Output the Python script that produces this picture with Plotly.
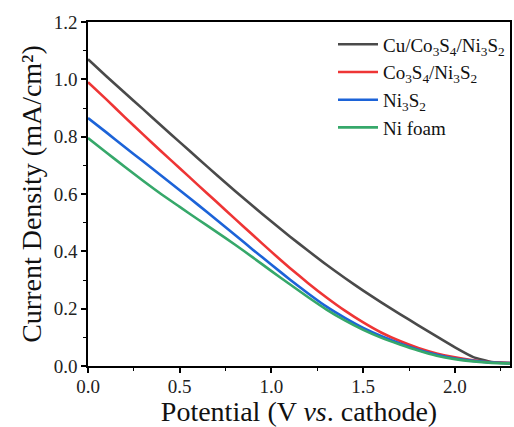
import plotly.graph_objects as go

potential = [0.0, 0.1, 0.2, 0.3, 0.4, 0.5, 0.6, 0.7, 0.8, 0.9, 1.0, 1.1, 1.2,
             1.3, 1.4, 1.5, 1.6, 1.7, 1.8, 1.9, 2.0, 2.1, 2.2, 2.3]

cu_co3s4_ni3s2 = [1.07, 1.011, 0.953, 0.896, 0.838, 0.781, 0.724, 0.667, 0.611, 0.557,
                  0.504, 0.452, 0.402, 0.353, 0.307, 0.263, 0.221, 0.181, 0.142, 0.103,
                  0.065, 0.031, 0.014, 0.01]
co3s4_ni3s2 = [0.99, 0.93, 0.868, 0.808, 0.748, 0.69, 0.631, 0.573, 0.514, 0.456,
               0.398, 0.342, 0.289, 0.239, 0.193, 0.152, 0.116, 0.087, 0.063, 0.044,
               0.03, 0.02, 0.013, 0.01]
ni3s2 = [0.865, 0.815, 0.764, 0.714, 0.664, 0.613, 0.562, 0.51, 0.458, 0.405,
         0.353, 0.302, 0.253, 0.207, 0.168, 0.133, 0.104, 0.079, 0.057, 0.039,
         0.026, 0.018, 0.012, 0.01]
ni_foam = [0.795, 0.745, 0.695, 0.646, 0.599, 0.555, 0.511, 0.468, 0.424, 0.378,
           0.331, 0.285, 0.240, 0.197, 0.159, 0.126, 0.098, 0.075, 0.054, 0.036,
           0.024, 0.016, 0.011, 0.009]

names = ["Cu/Co<sub>3</sub>S<sub>4</sub>/Ni<sub>3</sub>S<sub>2</sub>",
         "Co<sub>3</sub>S<sub>4</sub>/Ni<sub>3</sub>S<sub>2</sub>",
         "Ni<sub>3</sub>S<sub>2</sub>",
         "Ni foam"]
series = [cu_co3s4_ni3s2, co3s4_ni3s2, ni3s2, ni_foam]
colors = ["#4a4a4a", "#ee3535", "#1c63d8", "#36a86a"]

FONT = "Liberation Serif, Times New Roman, serif"

fig = go.Figure()
for n, s, c in zip(names, series, colors):
    fig.add_trace(go.Scatter(x=potential, y=s, mode="lines", name=n,
                             line=dict(color=c, width=2.6, shape="spline", smoothing=0.5)))

axis_common = dict(
    showline=True, linecolor="black", linewidth=1.5, mirror=True,
    ticks="outside", ticklen=5, tickwidth=1.5, tickcolor="black",
    showgrid=False, zeroline=False,
    tickfont=dict(family=FONT, size=19, color="#222"),
)

fig.update_xaxes(range=[0, 2.3], dtick=0.5, tickformat=".1f",
                 minor=dict(ticks="outside", ticklen=3, tickwidth=1.2, dtick=0.25, tickcolor="black"),
                 ticklabelstandoff=-3,
                 title=dict(text="Potential (V <i>vs</i>. cathode)", font=dict(family=FONT, size=28, color="#111"),
                            standoff=6),
                 **axis_common)
fig.update_yaxes(range=[0, 1.2], dtick=0.2, tickformat=".1f",
                 minor=dict(ticks="outside", ticklen=3, tickwidth=1.2, dtick=0.1, tickcolor="black"),
                 title=dict(text="Current Density (mA/cm²)", font=dict(family=FONT, size=28, color="#111"),
                            standoff=4),
                 **axis_common)

fig.update_layout(
    width=514, height=427,
    margin=dict(l=88, r=2, t=22, b=61),
    plot_bgcolor="white", paper_bgcolor="white",
    showlegend=True,
    legend=dict(x=1.0, y=0.99, xanchor="right", yanchor="top",
                bgcolor="rgba(0,0,0,0)", borderwidth=0,
                font=dict(family=FONT, size=19, color="#111"),
                tracegroupgap=0, itemwidth=40),
)

fig.write_html("out.html")
